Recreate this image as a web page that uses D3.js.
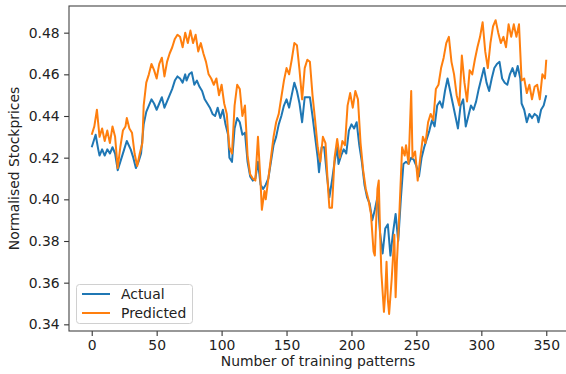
<!DOCTYPE html>
<html>
<head>
<meta charset="utf-8">
<script src="https://cdn.jsdelivr.net/npm/d3@7"></script>
<style>
  body { margin: 0; background: #fff; }
  svg text { font-family: "DejaVu Sans", sans-serif; fill: #222; }
</style>
</head>
<body>
<div id="chart"></div>
<script>
// Values
const actualX = [0,3,5,6,8,10,12,14,16,18,20,22,25,27,30,32,34,36,38,40,42,44,46,48,50,52,54,56,58,60,62,64,66,68,70,72,73,75,77,79,81,83,85,87,89,91,93,95,97,99,101,103,105,106,108,110,112,114,116,118,120,122,124,126,128,130,132,134,136,138,140,142,144,146,148,150,152,154,156,158,160,162,164,166,168,170,172,174,175,177,179,181,183,185,187,189,190,192,194,196,198,200,202,204,206,208,210,212,214,216,218,220,222,224,226,228,230,232,234,236,238,240,242,244,246,248,250,252,254,256,258,260,262,264,266,268,270,272,274,276,278,280,282,284,286,288,290,292,294,296,298,300,302,304,306,308,310,312,314,316,318,320,322,324,326,328,330,331,333,335,337,339,341,343,344,346,348,350];
const actualY = [0.425,0.431,0.424,0.421,0.424,0.421,0.424,0.422,0.425,0.422,0.414,0.418,0.424,0.428,0.424,0.420,0.415,0.418,0.422,0.436,0.442,0.445,0.448,0.446,0.443,0.446,0.449,0.444,0.447,0.450,0.453,0.457,0.459,0.458,0.456,0.460,0.457,0.460,0.461,0.455,0.457,0.454,0.452,0.448,0.446,0.444,0.441,0.440,0.444,0.439,0.443,0.436,0.431,0.420,0.418,0.434,0.439,0.437,0.431,0.432,0.418,0.411,0.409,0.410,0.418,0.407,0.405,0.407,0.410,0.418,0.426,0.430,0.436,0.440,0.445,0.448,0.444,0.450,0.456,0.452,0.446,0.437,0.449,0.449,0.449,0.440,0.430,0.420,0.413,0.425,0.425,0.412,0.401,0.409,0.418,0.425,0.417,0.421,0.424,0.422,0.433,0.436,0.434,0.437,0.426,0.418,0.407,0.401,0.398,0.390,0.395,0.401,0.384,0.374,0.386,0.388,0.373,0.384,0.393,0.380,0.400,0.417,0.418,0.417,0.420,0.419,0.416,0.411,0.420,0.425,0.429,0.433,0.438,0.435,0.445,0.447,0.444,0.452,0.458,0.452,0.446,0.440,0.434,0.445,0.448,0.435,0.440,0.445,0.443,0.447,0.453,0.458,0.463,0.456,0.452,0.458,0.463,0.465,0.466,0.458,0.456,0.455,0.460,0.463,0.459,0.464,0.458,0.446,0.443,0.437,0.441,0.439,0.441,0.440,0.437,0.443,0.445,0.450];

const predX = [0,2,4,6,8,10,12,14,16,18,20,22,24,26,27,29,31,33,35,37,39,40,42,44,46,48,50,52,54,56,58,60,62,64,66,68,70,72,74,76,78,80,82,84,86,88,90,92,94,96,98,100,102,104,105,106,108,110,112,114,116,118,120,122,124,126,128,130,131,133,134,136,138,140,142,144,146,148,150,152,154,156,158,160,162,164,166,168,170,172,174,176,178,180,182,183,185,187,189,191,193,195,197,199,201,203,205,207,209,211,213,215,217,218,220,221,222,223,225,226,227,228,229,231,233,234,235,237,239,241,242,244,246,247,249,251,253,255,257,259,261,263,265,267,269,271,273,275,277,279,281,283,285,287,289,291,293,295,297,299,301,303,305,307,309,311,313,315,317,319,321,323,325,327,329,331,333,335,337,339,341,343,345,347,349,350];
const predY = [0.431,0.435,0.443,0.430,0.434,0.428,0.433,0.427,0.435,0.430,0.415,0.425,0.433,0.435,0.439,0.434,0.432,0.422,0.416,0.422,0.427,0.445,0.456,0.460,0.465,0.462,0.458,0.465,0.468,0.459,0.466,0.470,0.473,0.477,0.479,0.478,0.473,0.480,0.475,0.481,0.475,0.479,0.471,0.475,0.470,0.466,0.460,0.458,0.455,0.458,0.450,0.455,0.446,0.441,0.432,0.425,0.422,0.445,0.455,0.453,0.440,0.445,0.421,0.412,0.410,0.409,0.430,0.408,0.395,0.404,0.400,0.410,0.420,0.430,0.437,0.441,0.449,0.457,0.463,0.460,0.467,0.475,0.474,0.462,0.448,0.463,0.467,0.466,0.450,0.438,0.425,0.418,0.430,0.427,0.405,0.396,0.396,0.420,0.429,0.420,0.428,0.426,0.445,0.451,0.444,0.452,0.448,0.427,0.414,0.405,0.400,0.393,0.375,0.373,0.405,0.409,0.385,0.365,0.346,0.355,0.370,0.352,0.345,0.362,0.383,0.353,0.370,0.395,0.425,0.421,0.426,0.417,0.452,0.420,0.423,0.409,0.420,0.430,0.427,0.437,0.441,0.438,0.453,0.455,0.463,0.468,0.475,0.478,0.466,0.460,0.450,0.445,0.469,0.456,0.447,0.462,0.460,0.467,0.473,0.478,0.485,0.471,0.463,0.475,0.483,0.486,0.480,0.475,0.478,0.473,0.484,0.478,0.484,0.478,0.484,0.457,0.458,0.451,0.455,0.448,0.454,0.455,0.448,0.460,0.458,0.467];

const xTicks = [0, 50, 100, 150, 200, 250, 300, 350];
const yTicks = [0.34, 0.36, 0.38, 0.40, 0.42, 0.44, 0.46, 0.48];
const seriesNames = ['Actual', 'Predicted'];
const seriesColors = ['#1f77b4', '#ff7f0e'];

const width = 566, height = 374;
const plotLeft = 69, plotRight = 569, plotTop = 6, plotBottom = 331;
const fontSize = '13.9px';

const svg = d3.select('#chart')
  .append('svg')
  .attr('width', width)
  .attr('height', height);

const xScale = d3.scaleLinear().domain([-17.5, 367.5]).range([plotLeft, plotRight]);
const yScale = d3.scaleLinear().domain([0.3368, 0.4928]).range([plotBottom, plotTop]);

// lines
const line = d3.line()
  .x(d => xScale(d[0]))
  .y(d => yScale(d[1]));

const series = [
  d3.zip(actualX, actualY),
  d3.zip(predX, predY)
];

series.forEach((data, i) => {
  svg.append('path')
    .datum(data)
    .attr('fill', 'none')
    .attr('stroke', seriesColors[i])
    .attr('stroke-width', 2)
    .attr('stroke-linejoin', 'round')
    .attr('d', line);
});

// axes
const xAxis = svg.append('g')
  .attr('transform', `translate(0, ${plotBottom})`)
  .call(d3.axisBottom(xScale).tickValues(xTicks).tickSize(4.9).tickPadding(4.5).tickFormat(d3.format('d')));

const yAxis = svg.append('g')
  .attr('transform', `translate(${plotLeft}, 0)`)
  .call(d3.axisLeft(yScale).tickValues(yTicks).tickSize(4.9).tickPadding(4.5).tickFormat(d3.format('.2f')));

[xAxis, yAxis].forEach(ax => {
  ax.select('.domain').remove();
  ax.selectAll('.tick line').attr('stroke', '#333').attr('stroke-width', 1.1);
  ax.selectAll('.tick text').attr('font-size', fontSize).attr('fill', '#222');
});

// frame (spines)
svg.append('rect')
  .attr('x', plotLeft)
  .attr('y', plotTop)
  .attr('width', plotRight - plotLeft)
  .attr('height', plotBottom - plotTop)
  .attr('fill', 'none')
  .attr('stroke', '#444')
  .attr('stroke-width', 1.1);

// axis labels
svg.append('text')
  .attr('x', (plotLeft + plotRight) / 2 - 1)
  .attr('y', 366)
  .attr('text-anchor', 'middle')
  .attr('font-size', fontSize)
  .text('Number of training patterns');

svg.append('text')
  .attr('transform', 'rotate(-90)')
  .attr('x', -(plotTop + plotBottom) / 2)
  .attr('y', 19)
  .attr('text-anchor', 'middle')
  .attr('font-size', fontSize)
  .text('Normalised Stockprices');

// legend
const legend = svg.append('g');
legend.append('rect')
  .attr('x', 76.5)
  .attr('y', 284.5)
  .attr('width', 116)
  .attr('height', 39)
  .attr('rx', 3)
  .attr('fill', 'white')
  .attr('fill-opacity', 0.8)
  .attr('stroke', '#d0d0d0');

seriesNames.forEach((name, i) => {
  const y = 294 + i * 19;
  legend.append('line')
    .attr('x1', 82).attr('x2', 110)
    .attr('y1', y).attr('y2', y)
    .attr('stroke', seriesColors[i])
    .attr('stroke-width', 2);
  legend.append('text')
    .attr('x', 121)
    .attr('y', y + 5)
    .attr('font-size', fontSize)
    .text(name);
});
</script>
</body>
</html>
